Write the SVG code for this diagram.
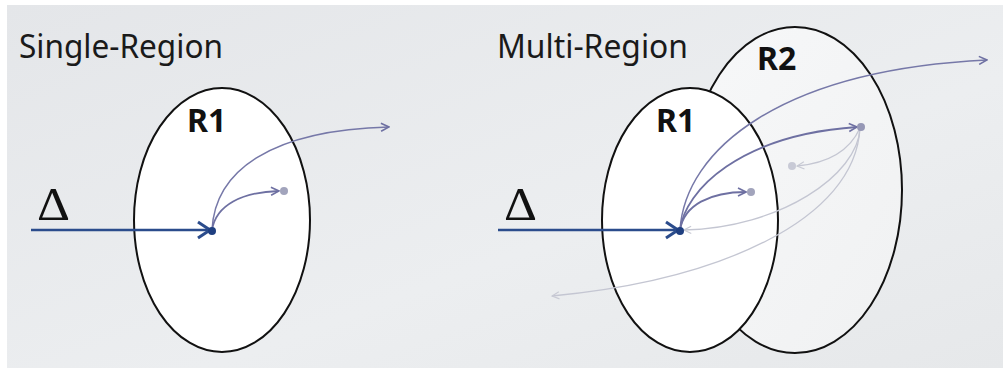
<svg xmlns="http://www.w3.org/2000/svg" width="1003" height="368" viewBox="0 0 1003 368">
<defs>
<linearGradient id="bg" x1="0" y1="0" x2="1" y2="1">
<stop offset="0" stop-color="#e4e6e9"/>
<stop offset="0.6" stop-color="#eceef0"/>
<stop offset="1" stop-color="#e6e8ea"/>
</linearGradient>
<linearGradient id="r2fill" x1="0" y1="0" x2="1" y2="1">
<stop offset="0" stop-color="#f7f8f9"/>
<stop offset="1" stop-color="#f0f1f2"/>
</linearGradient>
<marker id="chevP" viewBox="0 0 10 10" refX="9" refY="5" markerWidth="10" markerHeight="10" markerUnits="userSpaceOnUse" orient="auto">
<path d="M1,1 L9,5 L1,9" fill="none" stroke="#6e70a2" stroke-width="1.6"/>
</marker>
<marker id="chevG" viewBox="0 0 10 10" refX="9" refY="5" markerWidth="9" markerHeight="9" markerUnits="userSpaceOnUse" orient="auto">
<path d="M1,1 L9,5 L1,9" fill="none" stroke="#c8cad4" stroke-width="1.3"/>
</marker>
<marker id="chevB" viewBox="0 0 16 20" refX="14" refY="10" markerWidth="16" markerHeight="20" markerUnits="userSpaceOnUse" orient="auto">
<path d="M2,2 L14,10 L2,18" fill="none" stroke="#2b4c8c" stroke-width="3"/>
</marker>
</defs>
<style>
.title{font-family:"Noto Sans","Open Sans",sans-serif;font-size:32px;fill:#1a1a1a}
.lbl{font-family:"Noto Sans","Open Sans",sans-serif;font-weight:bold;font-size:32px;fill:#111}
.delta{font-family:"Liberation Serif",serif;font-size:46px;fill:#111}
.region{stroke:#111;stroke-width:2}
.blue{fill:none;stroke:#2b4c8c;stroke-width:2.6}
.purp{fill:none;stroke:#6e70a2;stroke-width:1.8}
.purpThin{fill:none;stroke:#7678a8;stroke-width:1.5}
.grey{fill:none;stroke:#c4c6d2;stroke-width:1.3}
</style>
<rect x="0" y="0" width="1003" height="368" fill="#ffffff"/>
<rect x="7" y="5" width="996" height="363" fill="url(#bg)"/>

<g id="title-single"><text class="title" x="19" y="58" textLength="204" lengthAdjust="spacingAndGlyphs">Single-Region</text></g>
<g id="title-multi"><text class="title" x="497" y="58" textLength="191" lengthAdjust="spacingAndGlyphs">Multi-Region</text></g>

<g id="single-R1">
<ellipse class="region" cx="222" cy="220" rx="88" ry="132" fill="#ffffff"/>
<text class="lbl" x="187" y="132">R1</text>
</g>
<g id="single-delta"><text class="delta" x="37" y="220" textLength="33" lengthAdjust="spacingAndGlyphs">Δ</text></g>

<g id="multi-R2">
<ellipse class="region" cx="795" cy="190" rx="107" ry="163" fill="url(#r2fill)"/>
<text class="lbl" x="757" y="70">R2</text>
</g>
<g id="multi-R1">
<ellipse class="region" cx="690" cy="220" rx="88" ry="132" fill="#ffffff"/>
<text class="lbl" x="656" y="132">R1</text>
</g>
<g id="multi-delta"><text class="delta" x="504" y="220" textLength="33" lengthAdjust="spacingAndGlyphs">Δ</text></g>

<g id="connectors">
<path class="blue" d="M31,230 L210,230" marker-end="url(#chevB)"/>
<path class="purpThin" d="M212,230 C215,170 272,130 389,127" marker-end="url(#chevP)"/>
<path class="purp" d="M212,230 C216,205 242,192 279,191" marker-end="url(#chevP)"/>
<path class="grey" d="M860,128 C855,220 720,280 552,296" marker-end="url(#chevG)"/>
<path class="grey" d="M860,128 C858,175 780,228 684,230" marker-end="url(#chevG)"/>
<path class="grey" d="M860,128 C850,150 830,163 797,166" marker-end="url(#chevG)"/>
<path class="blue" d="M498,230 L678,230" marker-end="url(#chevB)"/>
<path class="purpThin" d="M680,230 C685,150 780,70 987,60" marker-end="url(#chevP)"/>
<path class="purp" d="M680,230 C685,190 740,135 857,127" marker-end="url(#chevP)"/>
<path class="purp" d="M680,230 C684,205 710,192 746,192" marker-end="url(#chevP)"/>
</g>

<g id="dots">
<circle cx="212" cy="231" r="4" fill="#1f3f80"/>
<circle cx="284" cy="191" r="4" fill="#a2a4bc"/>
<circle cx="680" cy="231" r="4" fill="#1f3f80"/>
<circle cx="751" cy="192" r="4" fill="#a2a4bc"/>
<circle cx="861" cy="127" r="4" fill="#9698b6"/>
<circle cx="792" cy="166" r="4" fill="#c8cad6"/>
</g>
</svg>
